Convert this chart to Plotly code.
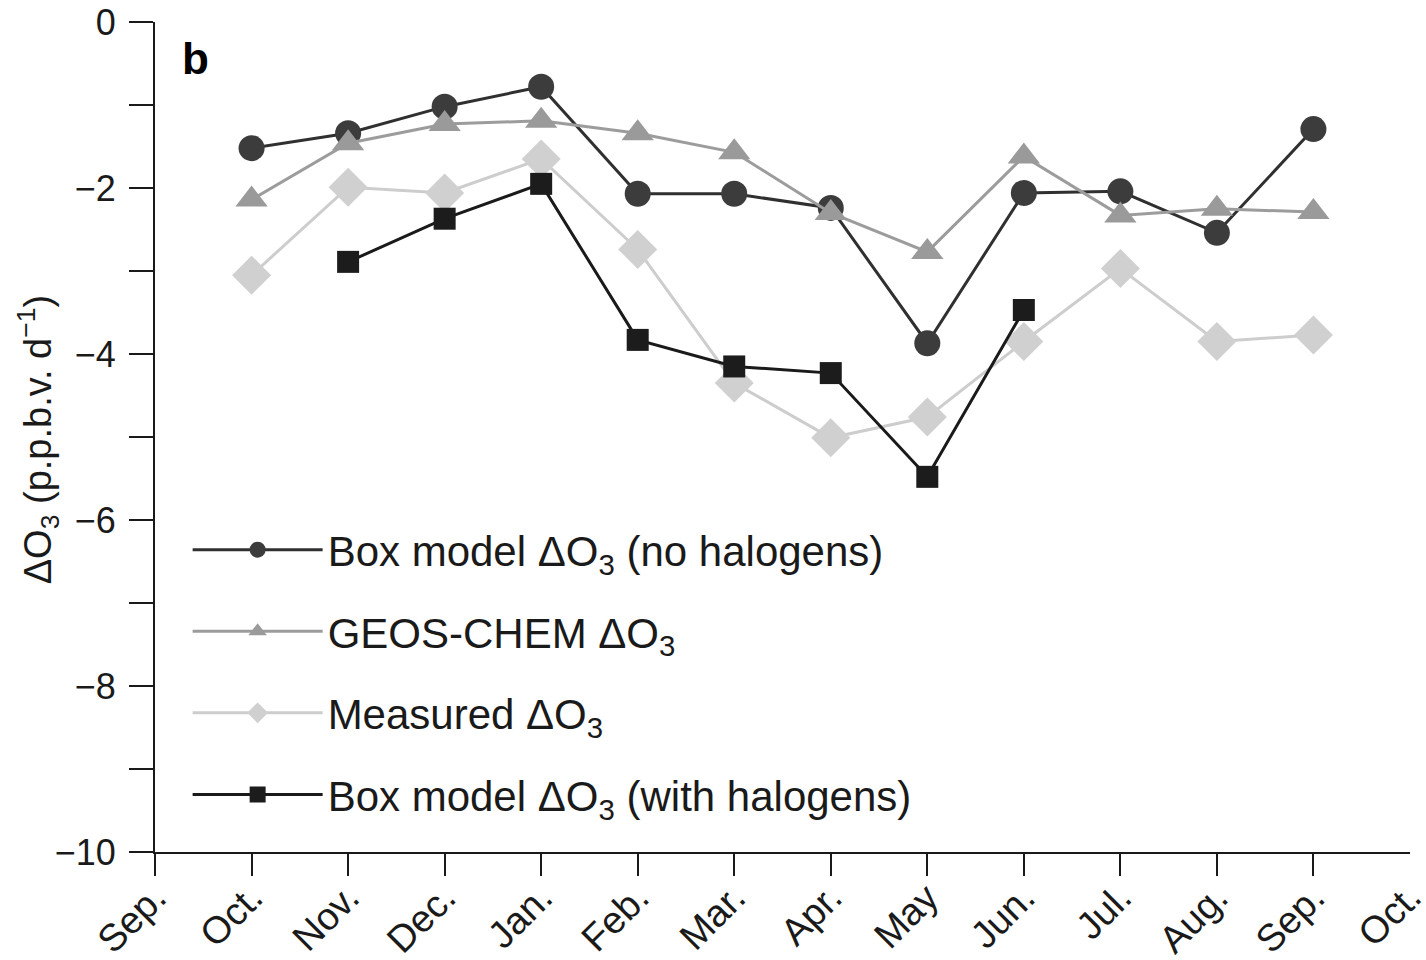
import plotly.graph_objects as go

# Month axis (Sep. through the following Oct.)
months = ["Sep.", "Oct.", "Nov.", "Dec.", "Jan.", "Feb.", "Mar.", "Apr.",
          "May", "Jun.", "Jul.", "Aug.", "Sep.", "Oct."]
month_pos = list(range(len(months)))
series_x = month_pos[1:13]  # Oct. .. Sep.

# Daily ozone change, p.p.b.v. per day
box_no_halogens = [-1.52, -1.34, -1.02, -0.78, -2.07, -2.07, -2.24, -3.87,
                   -2.06, -2.04, -2.54, -1.29]
geos_chem = [-2.14, -1.46, -1.23, -1.19, -1.34, -1.57, -2.30, -2.77,
             -1.62, -2.33, -2.25, -2.29]
measured = [-3.05, -1.99, -2.06, -1.65, -2.74, -4.35, -5.01, -4.76,
            -3.85, -2.97, -3.85, -3.77]
box_with_halogens = [None, -2.89, -2.37, -1.95, -3.83, -4.15, -4.23, -5.48,
                     -3.47, None, None, None]

y_ticks = list(range(-10, 1))
y_ticktext = [("\u2212" + str(-v) if v < 0 else str(v)) if v % 2 == 0 else ""
              for v in y_ticks]

FONT = "Liberation Sans, Arial, Helvetica, sans-serif"
INK = "#1a1a1a"
X_RANGE = [-0.0005, 13.0005]

fig = go.Figure()

# draw order: measured at the bottom, GEOS-CHEM on top
fig.add_trace(go.Scatter(
    x=series_x, y=measured, mode="lines+markers", name="Measured \u0394O<sub>3</sub>",
    legendrank=3, line=dict(color="#cdcdcd", width=3),
    marker=dict(symbol="diamond", size=30, color="#d0d0d0"),
))
fig.add_trace(go.Scatter(
    x=series_x, y=box_with_halogens, mode="lines+markers",
    name="Box model \u0394O<sub>3</sub> (with halogens)", legendrank=4,
    line=dict(color="#1a1a1a", width=3),
    marker=dict(symbol="square", size=22, color="#1c1c1c"),
))
fig.add_trace(go.Scatter(
    x=series_x, y=box_no_halogens, mode="lines+markers",
    name="Box model \u0394O<sub>3</sub> (no halogens)", legendrank=1,
    line=dict(color="#303030", width=3),
    marker=dict(symbol="circle", size=26, color="#3c3c3c"),
))
fig.add_trace(go.Scatter(
    x=series_x, y=geos_chem, mode="lines+markers", name="GEOS-CHEM \u0394O<sub>3</sub>",
    legendrank=2, line=dict(color="#9c9c9c", width=3),
    marker=dict(symbol="triangle-up", size=28, color="#9a9a9a"),
))
# empty trace so the overlaid month axis gets drawn
fig.add_trace(go.Scatter(x=[], y=[], xaxis="x2", yaxis="y", showlegend=False,
                         hoverinfo="skip", mode="markers"))

tick_font = dict(size=38, family=FONT, color=INK)

fig.update_layout(
    width=1426, height=960,
    margin=dict(l=155, r=16, t=22, b=108, autoexpand=False),
    paper_bgcolor="white", plot_bgcolor="white",
    font=dict(family=FONT, color=INK, size=34),
    legend=dict(
        x=0.026, y=0.405, xanchor="left", yanchor="top",
        font=dict(size=42, family=FONT, color=INK),
        itemwidth=130, tracegroupgap=24, traceorder="grouped",
        bgcolor="rgba(0,0,0,0)",
    ),
    # ticked months (Sep. .. Sep.)
    xaxis=dict(
        range=X_RANGE, tickmode="array", tickvals=month_pos[:-1],
        ticktext=months[:-1],
        tickangle=-45, ticks="outside", ticklen=22, tickwidth=2, tickcolor=INK,
        showline=True, linecolor=INK, linewidth=2, showgrid=False, zeroline=False,
        tickfont=tick_font, automargin=False,
        ticklabelstandoff=-16, ticklabeloverflow="allow",
    ),
    # closing month label at the axis end, without a tick mark
    xaxis2=dict(
        range=X_RANGE, overlaying="x", anchor="y", side="bottom",
        tickmode="array", tickvals=month_pos[-1:], ticktext=months[-1:],
        tickangle=-45, ticks="", showline=False, showgrid=False, zeroline=False,
        tickfont=tick_font, automargin=False,
        ticklabelstandoff=14, ticklabeloverflow="allow",
    ),
    yaxis=dict(
        range=[-10, 0], tickmode="array", tickvals=y_ticks, ticktext=y_ticktext,
        ticks="outside", ticklen=24, tickwidth=2, tickcolor=INK,
        showline=True, linecolor=INK, linewidth=2, showgrid=False, zeroline=False,
        tickfont=dict(size=36, family=FONT, color=INK), ticklabelstandoff=6,
        automargin=False,
    ),
    annotations=[
        dict(text="<b>b</b>", xref="paper", yref="paper", x=0.02, y=0.988,
             xanchor="left", yanchor="top", showarrow=False,
             font=dict(size=44, family=FONT, color="#000")),
        dict(text="\u0394O<sub>3</sub> (p.p.b.v. d<sup>\u22121</sup>)",
             xref="paper", yref="paper", x=(38 - 155) / 1255, y=0.496,
             xanchor="center", yanchor="middle", textangle=-90, showarrow=False,
             font=dict(size=38, family=FONT, color=INK)),
    ],
)

# one group per trace so the legend rows are spaced apart
for tr in fig.data:
    if tr.legendrank is not None:
        tr.legendgroup = f"g{tr.legendrank}"

fig.write_html("out.html")
